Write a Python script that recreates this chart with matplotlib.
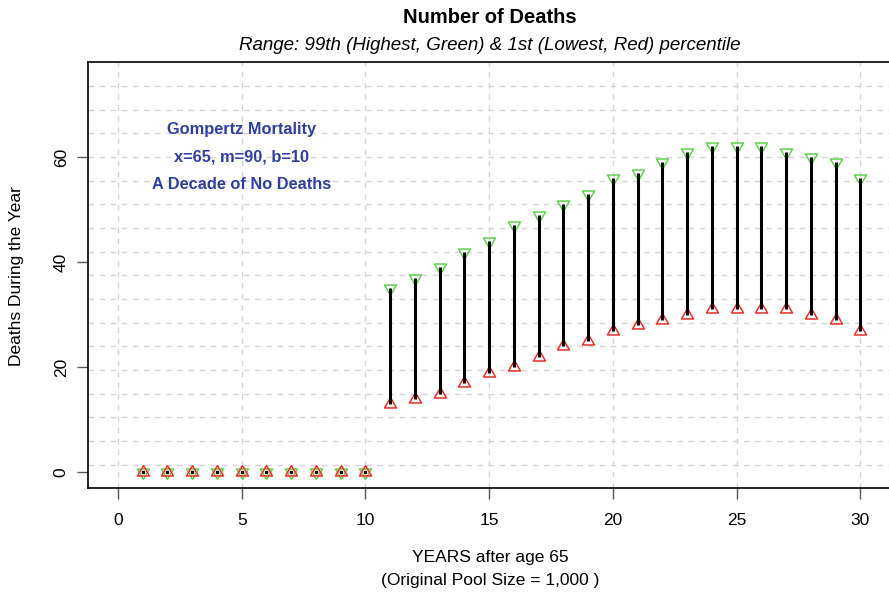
import numpy as np
import matplotlib
matplotlib.use('Agg')
import matplotlib.pyplot as plt

plt.rcParams['font.family'] = ['Liberation Sans', 'DejaVu Sans']

years = list(range(1, 31))
# 99th percentile (highest, green)
high = [0]*10 + [35, 37, 39, 42, 44, 47, 49, 51, 53, 56,
                 57, 59, 61, 62, 62, 62, 61, 60, 59, 56]
# 1st percentile (lowest, red)
low = [0]*10 + [13, 14, 15, 17, 19, 20, 22, 24, 25, 27,
                28, 29, 30, 31, 31, 31, 31, 30, 29, 27]

notes = ['Gompertz Mortality', 'x=65, m=90, b=10', 'A Decade of No Deaths']

# triangles centred on their centroid, like R's pch 2 / pch 6
tri_up = [(0, 1), (-0.866, -0.5), (0.866, -0.5), (0, 1)]
tri_down = [(0, -1), (-0.866, 0.5), (0.866, 0.5), (0, -1)]

fig = plt.figure(figsize=(8.89, 5.94), dpi=100)
ax = fig.add_axes([0.0993, 0.178, 0.9018, 0.7171])

ax.set_xlim(-1.2, 31.2)
ax.set_ylim(-3, 78)

# grid like R's grid(ny=18): y lines split the plot region in 18 parts
for gx in range(0, 31, 5):
    ax.axvline(gx, color='#D3D3D3', lw=1, ls=(0, (4, 4)), zorder=0)
for gy in np.linspace(-3, 78, 19)[1:-1]:
    ax.axhline(gy, color='#D3D3D3', lw=1, ls=(0, (4, 4)), zorder=0)

ax.plot(years, high, ls='none', marker=tri_down, ms=10, mfc='none',
        mec='#61D04F', mew=1.1, zorder=2)
ax.plot(years, low, ls='none', marker=tri_up, ms=10, mfc='none',
        mec='#E8302A', mew=1.1, zorder=3)
ax.vlines(years, low, high, color='black', lw=2.2, zorder=4)
zero = [y for y, a, b in zip(years, low, high) if a == b]
ax.plot(zero, [0]*len(zero), ls='none', marker='s', ms=1.8, color='black', zorder=4)

for i, t in enumerate(notes):
    ax.text(5, 65.3 - 5.3*i, t, ha='center', va='center', fontsize=11.8,
            fontweight='bold', color='#2F3F9F')

ax.set_xticks(range(0, 31, 5))
ax.set_yticks([0, 20, 40, 60])
ax.tick_params(direction='out', length=8, width=1, color='#555555',
               labelsize=12.5)
ax.tick_params(axis='x', pad=10)
ax.tick_params(axis='y', pad=6, labelrotation=90)
for lbl in ax.get_yticklabels():
    lbl.set_va('center')
for s in ax.spines.values():
    s.set_linewidth(1.2)

fig.text(0.551, 0.97, 'Number of Deaths', ha='center', va='center',
         fontsize=14.5, fontweight='bold')
fig.text(0.551, 0.924, 'Range: 99th (Highest, Green) & 1st (Lowest, Red) percentile',
         ha='center', va='center', fontsize=13.5, style='italic')
fig.text(0.551, 0.062, 'YEARS after age 65', ha='center', va='center', fontsize=12.5)
fig.text(0.551, 0.022, '(Original Pool Size = 1,000 )', ha='center', va='center', fontsize=12.5)
fig.text(0.018, 0.535, 'Deaths During the Year', ha='center', va='center',
         rotation=90, fontsize=12.5)

fig.savefig('out.png', dpi=100)
